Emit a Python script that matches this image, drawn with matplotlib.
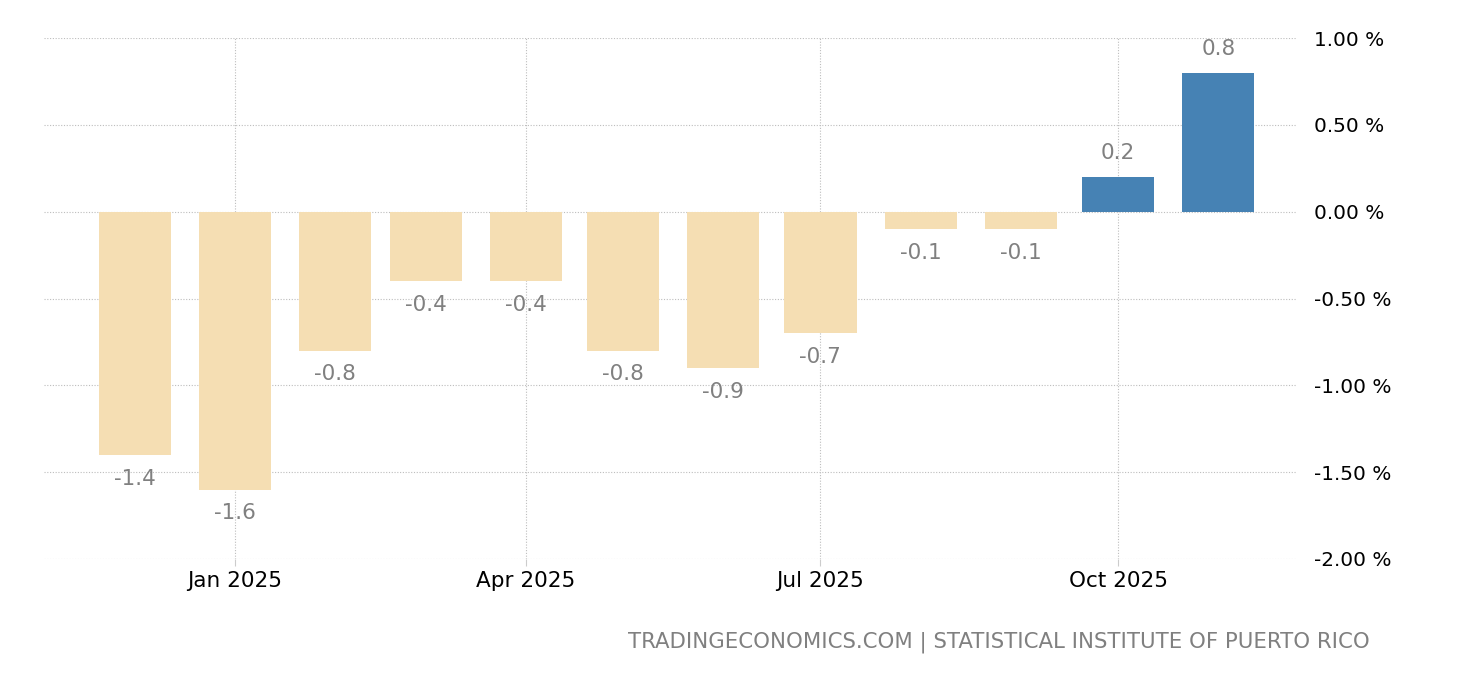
import matplotlib
matplotlib.use("Agg")
import matplotlib.pyplot as plt
import matplotlib.dates as mdates
import numpy as np
from datetime import datetime, timedelta

months = ["2024-12", "2025-01", "2025-02", "2025-03", "2025-04", "2025-05",
          "2025-06", "2025-07", "2025-08", "2025-09", "2025-10", "2025-11"]
values = [-1.4, -1.6, -0.8, -0.4, -0.4, -0.8, -0.9, -0.7, -0.1, -0.1, 0.2, 0.8]
yticks = [-2.0, -1.5, -1.0, -0.5, 0.0, 0.5, 1.0]
xtick_months = ["2025-01", "2025-04", "2025-07", "2025-10"]
xtick_labels = ["Jan 2025", "Apr 2025", "Jul 2025", "Oct 2025"]
source = "TRADINGECONOMICS.COM | STATISTICAL INSTITUTE OF PUERTO RICO"

plt.rcParams['font.family'] = ['DejaVu Sans']

dates = [datetime.strptime(m, "%Y-%m") for m in months]
xt = [datetime.strptime(m, "%Y-%m") for m in xtick_months]

fig = plt.figure(figsize=(14.6, 6.8), dpi=100)
ax = fig.add_axes([44/1460, 1-559/680, (1296-44)/1460, (559-38)/680])

colors = ["#4682B4" if v > 0 else "#F5DEB3" for v in values]
xnum = mdates.date2num(dates)
ax.bar(xnum, values, width=22.3, color=colors, zorder=2)

for x, v in zip(xnum, values):
    if v >= 0:
        ax.annotate(f"{v:.1f}", (x, v), xytext=(0, 10), textcoords="offset points",
                    ha="center", va="bottom", color="#808080", fontsize=15.5)
    else:
        ax.annotate(f"{v:.1f}", (x, v), xytext=(0, -10), textcoords="offset points",
                    ha="center", va="top", color="#808080", fontsize=15.5)

ax.set_ylim(-2.0, 1.0)
ax.set_xlim(mdates.date2num(datetime(2025, 1, 1)) - 59, mdates.date2num(datetime(2025, 1, 1)) + 328)
ax.set_yticks(yticks)
ax.set_yticklabels([f"{t:.2f} %" for t in yticks], fontsize=14.4, color="black")
ax.yaxis.tick_right()
ax.tick_params(axis="y", length=0, pad=13)
ax.set_xticks(mdates.date2num(xt))
ax.set_xticklabels(xtick_labels, fontsize=15.5, color="black")
ax.tick_params(axis="x", length=5, color="#cccccc", pad=3.5)

for s in ax.spines.values():
    s.set_visible(False)
ax.grid(True, color="#bdbdbd", linestyle=(0, (1, 1.5)), linewidth=0.8, zorder=0)
ax.set_axisbelow(True)

fig.text(1370/1460, 1-642/680, source, ha="right", va="center", fontsize=15.3, color="#808080")

fig.savefig("out.png", dpi=100)
